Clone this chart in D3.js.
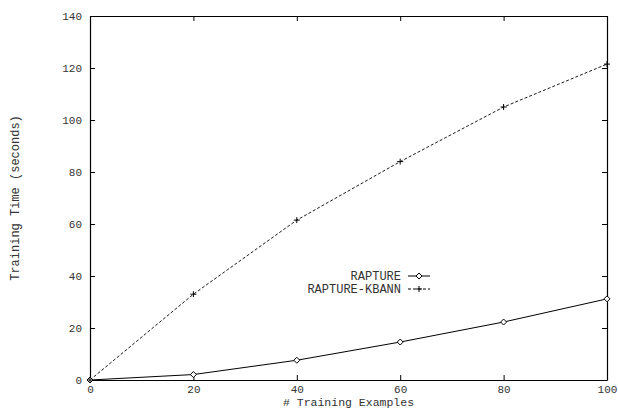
<!DOCTYPE html>
<html>
<head>
<meta charset="utf-8">
<script src="https://cdn.jsdelivr.net/npm/d3@7"></script>
<style>
  body { margin: 0; background: #fff; }
  text { font-family: "Liberation Mono", "DejaVu Sans Mono", monospace; fill: #333; }
</style>
</head>
<body>
<div id="chart"></div>
<script>
const examples = [0, 20, 40, 60, 80, 100];
const rapture = [0, 2.1, 7.6, 14.6, 22.3, 31.2];
const kbann = [0, 33, 61.5, 84, 105, 121.5];
const xTicks = [0, 20, 40, 60, 80, 100];
const yTicks = [0, 20, 40, 60, 80, 100, 120, 140];

function drawChart() {
  const width = 618;
  const height = 411;
  const margin = {top: 16, right: 11, bottom: 31, left: 90};

  const svg = d3.select("#chart").append("svg")
      .attr("width", width)
      .attr("height", height);

  const x = d3.scaleLinear().domain([0, 100]).range([margin.left, width - margin.right]);
  const y = d3.scaleLinear().domain([0, 140]).range([height - margin.bottom, margin.top]);

  const tick = 5;

  // axes with inward ticks, mirrored on top and right
  const bottom = svg.append("g")
      .attr("transform", `translate(0,${y(0)})`)
      .call(d3.axisBottom(x).tickValues(xTicks).tickSizeInner(-tick).tickSizeOuter(0).tickPadding(6));
  const top = svg.append("g")
      .attr("transform", `translate(0,${y(140)})`)
      .call(d3.axisTop(x).tickValues(xTicks).tickSizeInner(-tick).tickSizeOuter(0).tickFormat(""));
  const left = svg.append("g")
      .attr("transform", `translate(${x(0)},0)`)
      .call(d3.axisLeft(y).tickValues(yTicks).tickSizeInner(-tick).tickSizeOuter(0).tickPadding(8));
  const right = svg.append("g")
      .attr("transform", `translate(${x(100)},0)`)
      .call(d3.axisRight(y).tickValues(yTicks).tickSizeInner(-tick).tickSizeOuter(0).tickFormat(""));

  [bottom, top, left, right].forEach(g => {
    g.select(".domain").attr("stroke", "#000").attr("stroke-width", 1.2);
    g.selectAll(".tick line").attr("stroke", "#000");
    g.selectAll("text").style("font-size", "11px").attr("fill", "#333")
      .style("font-family", "'Liberation Mono', monospace");
  });
  bottom.selectAll("text").attr("dy", "0.6em");

  const line = d3.line()
      .x((d, i) => x(examples[i]))
      .y(d => y(d));

  svg.append("path")
      .datum(rapture)
      .attr("fill", "none")
      .attr("stroke", "#000")
      .attr("stroke-width", 1)
      .attr("d", line);

  svg.append("path")
      .datum(kbann)
      .attr("fill", "none")
      .attr("stroke", "#000")
      .attr("stroke-width", 0.9)
      .attr("stroke-dasharray", "3,2")
      .attr("d", line);

  const diamond = (cx, cy, r) => `M${cx},${cy - r}L${cx + r},${cy}L${cx},${cy + r}L${cx - r},${cy}Z`;
  const plus = (cx, cy, r) => `M${cx - r},${cy}H${cx + r}M${cx},${cy - r}V${cy + r}`;

  svg.append("g")
    .selectAll("path")
    .data(rapture)
    .join("path")
      .attr("d", (d, i) => diamond(x(examples[i]), y(d), 3))
      .attr("fill", "#fff")
      .attr("stroke", "#000")
      .attr("stroke-width", 1);

  svg.append("g")
    .selectAll("path")
    .data(kbann)
    .join("path")
      .attr("d", (d, i) => plus(x(examples[i]), y(d), 3))
      .attr("stroke", "#000")
      .attr("stroke-width", 1);

  // legend
  const legend = svg.append("g").style("font-size", "12px");
  legend.append("text").attr("x", 401).attr("y", 276).attr("dy", "0.35em")
      .attr("text-anchor", "end").text("RAPTURE");
  legend.append("line").attr("x1", 408).attr("x2", 430).attr("y1", 276).attr("y2", 276)
      .attr("stroke", "#000");
  legend.append("path").attr("d", diamond(419, 276, 3)).attr("fill", "#fff").attr("stroke", "#000");

  legend.append("text").attr("x", 401).attr("y", 289).attr("dy", "0.35em")
      .attr("text-anchor", "end").text("RAPTURE-KBANN");
  legend.append("line").attr("x1", 408).attr("x2", 430).attr("y1", 289).attr("y2", 289)
      .attr("stroke", "#000").attr("stroke-dasharray", "3,2");
  legend.append("path").attr("d", plus(419, 289, 3)).attr("stroke", "#000");

  // axis titles
  svg.append("text")
      .attr("x", (x(0) + x(100)) / 2)
      .attr("y", 406)
      .attr("text-anchor", "middle")
      .style("font-size", "11.5px")
      .text("# Training Examples");

  svg.append("text")
      .attr("transform", `translate(19,${(y(0) + y(140)) / 2}) rotate(-90)`)
      .attr("text-anchor", "middle")
      .style("font-size", "12px")
      .text("Training Time (seconds)");

  return svg.node();
}

drawChart();
</script>
</body>
</html>
